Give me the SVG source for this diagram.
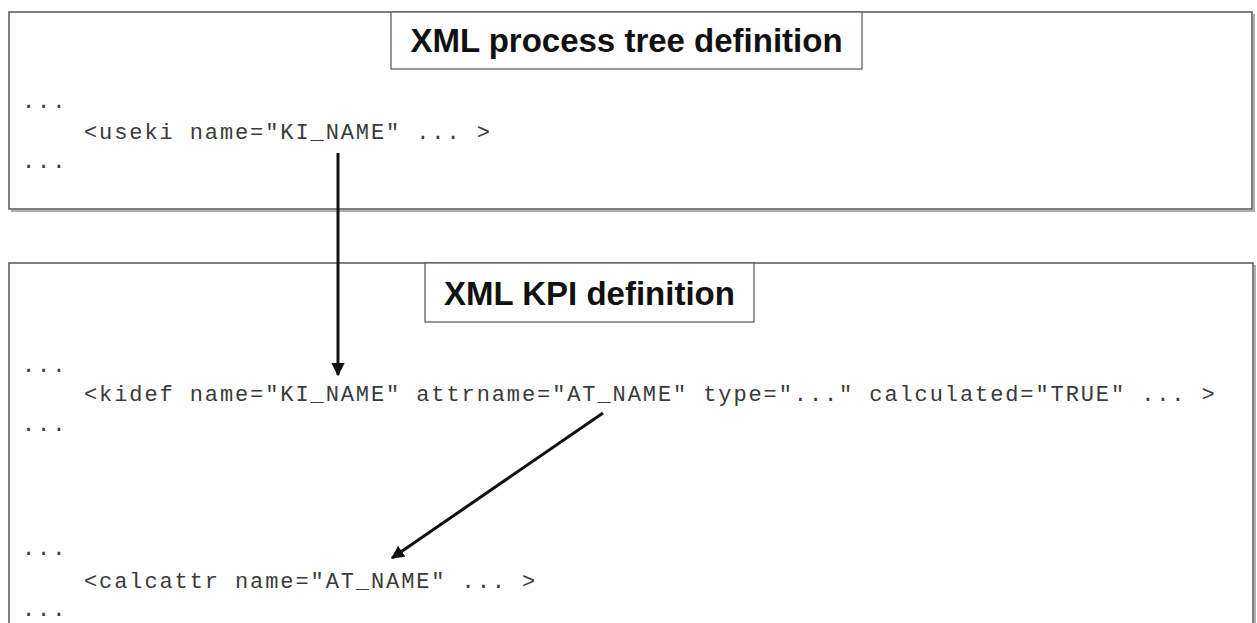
<svg xmlns="http://www.w3.org/2000/svg" width="1257" height="623" viewBox="0 0 1257 623">
  <style>
    .frame { fill: #ffffff; stroke: #555555; stroke-width: 1.5; }
    .shadow { fill: none; stroke: #b0b0b0; stroke-width: 2; }
    .tbox { fill: #ffffff; stroke: #555555; stroke-width: 1.2; }
    .title { font-family: "Liberation Sans", Arial, sans-serif; font-weight: bold; font-size: 33px; fill: #111111; text-anchor: middle; }
    .code { font-family: "Liberation Mono", "DejaVu Sans Mono", monospace; font-size: 22px; letter-spacing: 1.9px; fill: #3a3a3a; }
    .conn { stroke: #111111; stroke-width: 3; fill: none; }
  </style>
  <defs>
    <marker id="arrow" viewBox="0 0 10 10" refX="9" refY="5" markerWidth="4.4" markerHeight="4.4" markerUnits="strokeWidth" orient="auto">
      <path d="M0,0 L10,5 L0,10 z" fill="#111111"/>
    </marker>
  </defs>
  <rect width="1257" height="623" fill="#ffffff"/>

  <g id="process-tree">
    <polyline class="shadow" points="1254,14 1254,211 11,211"/>
    <rect class="frame" x="9" y="12" width="1243" height="197"/>
    <rect class="tbox" x="391" y="12" width="471" height="57"/>
    <text class="title" x="626.5" y="52">XML process tree definition</text>
    <text class="code" x="22" y="108">...</text>
    <text class="code" x="84" y="139">&lt;useki name="KI_NAME" ... &gt;</text>
    <text class="code" x="22" y="168">...</text>
  </g>

  <g id="kpi-definition">
    <polyline class="shadow" points="1255,265 1255,640"/>
    <rect class="frame" x="9" y="263" width="1244" height="400"/>
    <rect class="tbox" x="425" y="263" width="329" height="59"/>
    <text class="title" x="589.5" y="305">XML KPI definition</text>
    <text class="code" x="22" y="372">...</text>
    <text class="code" x="84" y="401">&lt;kidef name="KI_NAME" attrname="AT_NAME" type="..." calculated="TRUE" ... &gt;</text>
    <text class="code" x="22" y="431">...</text>
    <text class="code" x="22" y="555">...</text>
    <text class="code" x="84" y="588">&lt;calcattr name="AT_NAME" ... &gt;</text>
    <text class="code" x="22" y="616">...</text>
  </g>

  <g id="connectors">
    <line class="conn" x1="338" y1="153" x2="338" y2="375" marker-end="url(#arrow)"/>
    <line class="conn" x1="603" y1="413" x2="392" y2="558" marker-end="url(#arrow)"/>
  </g>
</svg>
